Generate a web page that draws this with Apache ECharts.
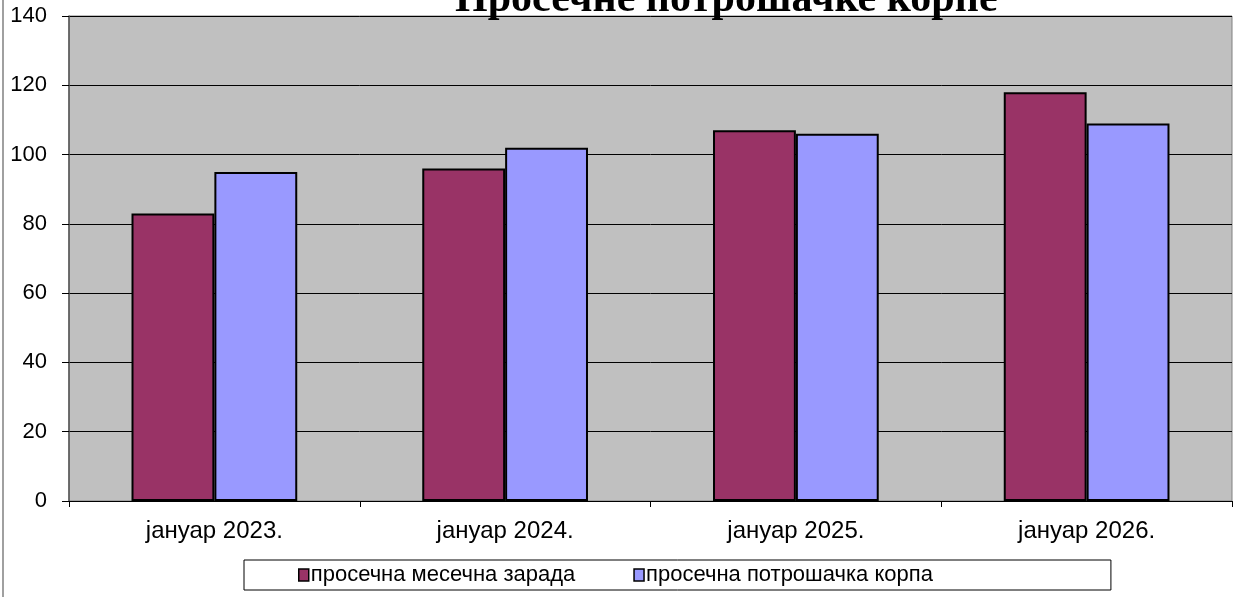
<!DOCTYPE html>
<html>
<head>
<meta charset="utf-8">
<script src="https://cdn.jsdelivr.net/npm/echarts@6/dist/echarts.min.js"></script>
<style>
  html, body { margin: 0; padding: 0; background: #fff; }
  #chart { width: 1233px; height: 597px; }
</style>
</head>
<body>
<div id="chart"></div>
<script>
const categories = ['јануар 2023.', 'јануар 2024.', 'јануар 2025.', 'јануар 2026.'];
const zarada = [83, 96, 107, 118];
const korpa = [95, 102, 106, 109];
const seriesNames = ['просечна месечна зарада', 'просечна потрошачка корпа'];
const titleText = 'Просечне потрошачке корпе';

const chart = echarts.init(document.getElementById('chart'));
const font = 'Liberation Sans, Arial, sans-serif';

chart.setOption({
    animation: false,
    color: ['#993366', '#9999FF'],
    title: {
        text: titleText,
        left: 455,
        top: -21,
        padding: 0,
        textStyle: {
            fontFamily: 'Liberation Serif, Times New Roman, serif',
            fontWeight: 'bold',
            fontSize: 42,
            color: '#000'
        }
    },
    grid: {
        left: 69,
        right: 1,
        top: 16,
        bottom: 96,
        show: true,
        backgroundColor: '#c0c0c0',
        borderColor: '#808080',
        borderWidth: 1
    },
    legend: {
        left: 244,
        top: 560,
        padding: [4, 178, 4, 54],
        borderColor: '#000',
        borderWidth: 1,
        itemGap: 58,
        itemWidth: 10,
        itemHeight: 12,
        icon: 'rect',
        textStyle: { fontFamily: font, fontSize: 22, color: '#000', padding: [0, 0, 0, -3] },
        itemStyle: { borderColor: '#000', borderWidth: 1.5 },
        data: seriesNames
    },
    xAxis: {
        type: 'category',
        data: categories,
        axisLine: { lineStyle: { color: '#000', width: 1 } },
        axisTick: { show: true, length: 6, lineStyle: { color: '#000' } },
        axisLabel: { fontFamily: font, fontSize: 24, color: '#000', margin: 18 }
    },
    yAxis: {
        type: 'value',
        min: 0,
        max: 140,
        interval: 20,
        axisLine: { show: true, lineStyle: { color: '#555', width: 1.5 } },
        axisTick: { show: true, length: 7, lineStyle: { color: '#000' } },
        axisLabel: { fontFamily: font, fontSize: 22, color: '#000', margin: 22 },
        splitLine: { lineStyle: { color: '#000', width: 1 } }
    },
    graphic: [{
        type: 'line',
        shape: { x1: 3, y1: 0, x2: 3, y2: 597 },
        style: { stroke: '#808080', lineWidth: 1.5 }
    }],
    series: [{
        name: seriesNames[0],
        type: 'bar',
        data: zarada,
        barGap: 0,
        barCategoryGap: '43%',
        itemStyle: { borderColor: '#000', borderWidth: 2 }
    }, {
        name: seriesNames[1],
        type: 'bar',
        data: korpa,
        barGap: 0,
        barCategoryGap: '43%',
        itemStyle: { borderColor: '#000', borderWidth: 2 }
    }]
});
</script>
</body>
</html>
